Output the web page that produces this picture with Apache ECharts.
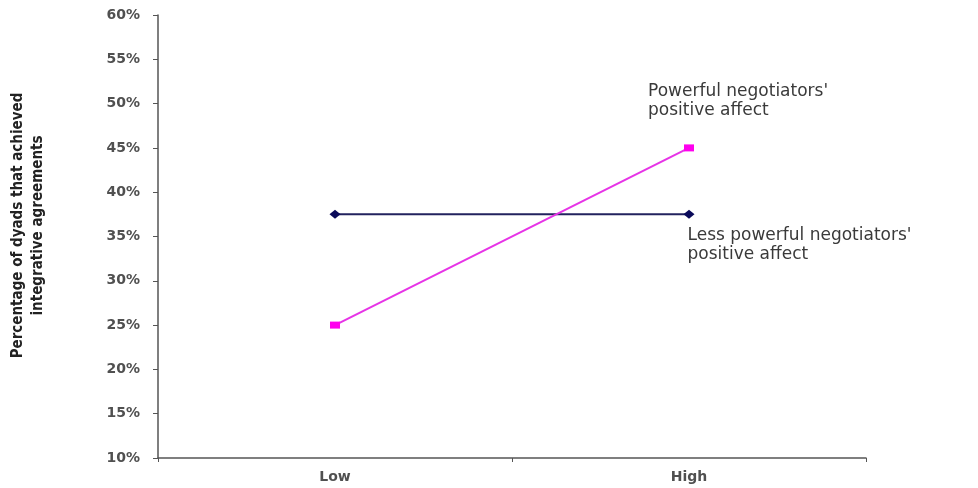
<!DOCTYPE html>
<html>
<head>
<meta charset="utf-8">
<script src="https://cdn.jsdelivr.net/npm/echarts@6/dist/echarts.min.js"></script>
<style>html,body{margin:0;padding:0;background:#fff}#c{width:978px;height:488px}</style>
</head>
<body>
<div id="c"></div>
<script>
const categories = ['Low', 'High'];
const powerfulValues = [25, 45];
const lessPowerfulValues = [37.5, 37.5];
const powerfulName = "Powerful negotiators'\npositive affect";
const lessPowerfulName = "Less powerful negotiators'\npositive affect";
const yAxisName = 'Percentage of dyads that achieved\nintegrative agreements';
const yMin = 10, yMax = 60, yStep = 5;

const chart = echarts.init(document.getElementById('c'));
const labelFont = { fontFamily: 'DejaVu Sans', fontSize: 17, color: '#3a3a3a', lineHeight: 19 };
chart.setOption({
  backgroundColor: '#ffffff',
  animation: false,
  grid: { left: 156, right: 112, top: 15, bottom: 30 },
  xAxis: {
    type: 'category',
    data: categories,
    boundaryGap: true,
    axisLine: { lineStyle: { color: '#555', width: 1.5 } },
    axisTick: { show: true, length: 4, inside: false, lineStyle: { color: '#555' } },
    axisLabel: { margin: 12, fontFamily: 'DejaVu Sans', fontWeight: 'bold', fontSize: 14, color: '#505050' }
  },
  yAxis: {
    type: 'value',
    min: yMin, max: yMax, interval: yStep,
    name: yAxisName,
    nameLocation: 'middle',
    nameGap: 110,
    nameTextStyle: { fontFamily: 'DejaVu Sans Condensed', fontWeight: 'bold', fontSize: 15, color: '#222', lineHeight: 20, padding: [0, 0, 0, 22] },
    splitLine: { show: false },
    axisLine: { show: true, lineStyle: { color: '#555', width: 1.5 } },
    axisTick: { show: true, length: 5, lineStyle: { color: '#555' } },
    axisLabel: { margin: 18, fontFamily: 'DejaVu Sans', fontWeight: 'bold', fontSize: 14, color: '#505050', formatter: v => v + '%' }
  },
  series: [
    {
      name: powerfulName,
      type: 'line',
      data: powerfulValues.map((v, i) => i === powerfulValues.length - 1 ? {
        value: v,
        label: { show: true, formatter: powerfulName, position: [-36, -62], align: 'left', verticalAlign: 'top', ...labelFont }
      } : v),
      symbol: 'rect', symbolSize: [10, 7],
      itemStyle: { color: '#ff00ee' },
      lineStyle: { color: '#e633e6', width: 2 },
      z: 3
    },
    {
      name: lessPowerfulName,
      type: 'line',
      data: lessPowerfulValues.map((v, i) => i === lessPowerfulValues.length - 1 ? {
        value: v,
        label: { show: true, formatter: lessPowerfulName, position: [4, 16], align: 'left', verticalAlign: 'top', ...labelFont }
      } : v),
      symbol: 'diamond', symbolSize: [11, 9],
      itemStyle: { color: '#0a0a5a' },
      lineStyle: { color: '#22225e', width: 2 },
      z: 2
    }
  ]
});
</script>
</body>
</html>
